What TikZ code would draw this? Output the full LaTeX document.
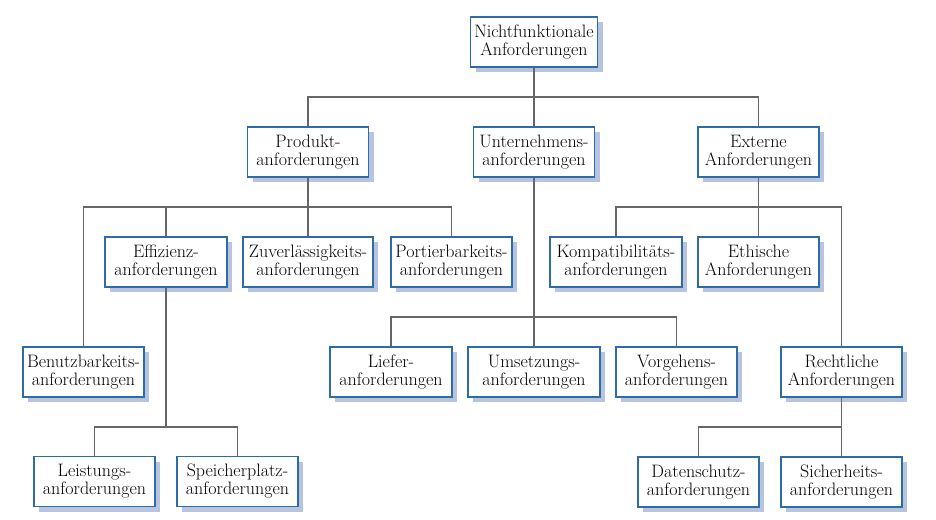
\documentclass[tikz,border=0pt]{standalone}
\usetikzlibrary{shadows}
\definecolor{boxblue}{HTML}{2E6CA6}
\definecolor{shadowblue}{HTML}{B6C4E2}
\definecolor{linegray}{HTML}{666666}
\begin{document}
\begin{tikzpicture}[x=1pt,y=-1pt,
  reqbox/.style={draw=boxblue,line width=1.8pt,fill=white,
    minimum width=121pt,minimum height=50pt,inner xsep=2pt,inner ysep=0pt,
    align=center,font=\fontsize{18}{18}\selectfont,
    copy shadow={shadow xshift=5pt,shadow yshift=-5pt,fill=shadowblue,draw=none}},
  conn/.style={draw=linegray,line width=1.1pt}]
\useasboundingbox (0,0) rectangle (936,519);
% nodes
\node[reqbox,minimum width=127pt] (root) at (534,42) {Nichtfunktionale\\Anforderungen};
\node[reqbox] (prod) at (308,152) {Produkt-\\anforderungen};
\node[reqbox] (unt) at (534,152) {Unternehmens-\\anforderungen};
\node[reqbox] (ext) at (758.5,152) {Externe\\Anforderungen};
\node[reqbox,minimum width=122pt] (eff) at (166,262) {Effizienz-\\anforderungen};
\node[reqbox,minimum width=130pt] (zuv) at (308,262) {Zuverlässigkeits-\\anforderungen};
\node[reqbox] (port) at (451.5,262) {Portierbarkeits-\\anforderungen};
\node[reqbox,minimum width=132pt] (komp) at (616,262) {Kompatibilitäts-\\anforderungen};
\node[reqbox] (eth) at (758.5,262) {Ethische\\Anforderungen};
\node[reqbox] (benu) at (83.5,372) {Benutzbarkeits-\\anforderungen};
\node[reqbox,minimum width=122pt] (lief) at (391,372) {Liefer-\\anforderungen};
\node[reqbox,minimum width=132pt] (ums) at (534,372) {Umsetzungs-\\anforderungen};
\node[reqbox] (vorg) at (676.5,372) {Vorgehens-\\anforderungen};
\node[reqbox] (recht) at (841.5,372) {Rechtliche\\Anforderungen};
\node[reqbox] (leist) at (94.5,481.5) {Leistungs-\\anforderungen};
\node[reqbox] (speich) at (237.5,481.5) {Speicherplatz-\\anforderungen};
\node[reqbox] (daten) at (698.5,482) {Datenschutz-\\anforderungen};
\node[reqbox] (sich) at (841.5,482) {Sicherheits-\\anforderungen};
% bar coordinates
\coordinate (b1) at (534,97);
\coordinate (b2) at (308,207);
\coordinate (b3) at (166,427);
\coordinate (b4) at (534,317);
\coordinate (b5) at (758.5,207);
\coordinate (b6) at (841.5,427);
% connectors
\draw[conn] (root.south) -- (unt.north);
\draw[conn] (prod.north) -- (prod.north |- b1) -| (ext.north);
\draw[conn] (prod.south) -- (zuv.north);
\draw[conn] (benu.north) -- (benu.north |- b2) -| (port.north);
\draw[conn] (eff.north) -- (eff.north |- b2);
\draw[conn] (eff.south) -- (b3);
\draw[conn] (leist.north) -- (leist.north |- b3) -| (speich.north);
\draw[conn] (unt.south) -- (ums.north);
\draw[conn] (lief.north) -- (lief.north |- b4) -| (vorg.north);
\draw[conn] (ext.south) -- (eth.north);
\draw[conn] (komp.north) -- (komp.north |- b5) -| (recht.north);
\draw[conn] (recht.south) -- (sich.north);
\draw[conn] (daten.north) -- (daten.north |- b6) -- (b6);
\end{tikzpicture}
\end{document}
